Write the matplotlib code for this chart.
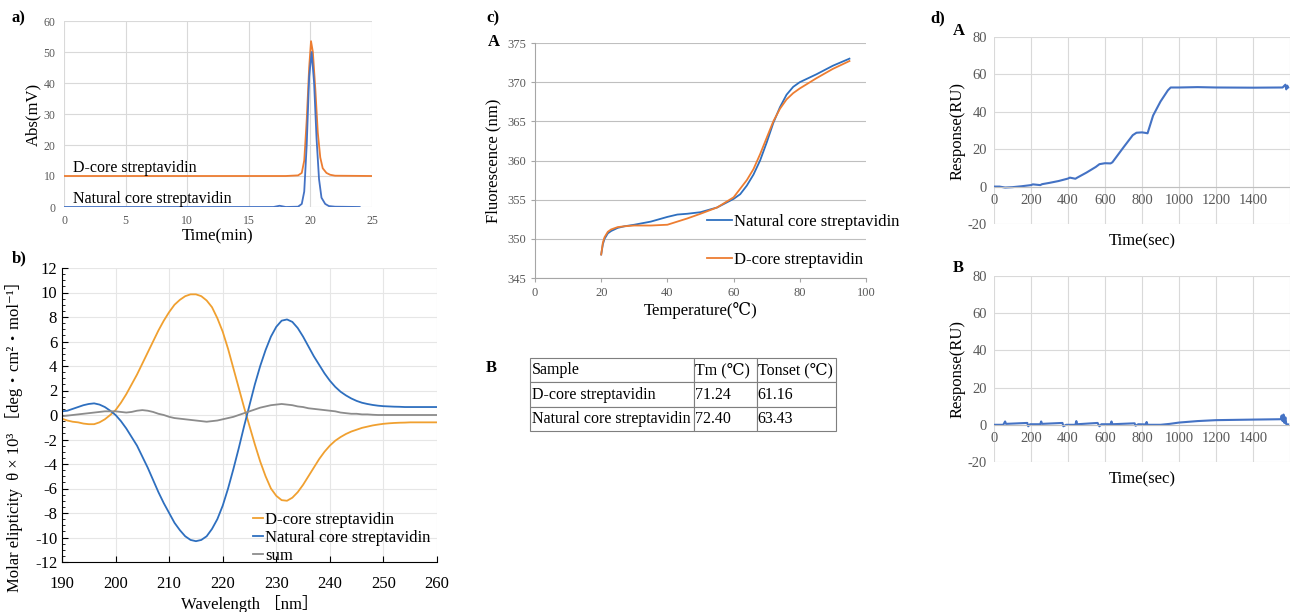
import numpy as np
import matplotlib
matplotlib.use("Agg")
import matplotlib.pyplot as plt
from matplotlib.ticker import AutoMinorLocator

plt.rcParams['font.family'] = ['Liberation Serif', 'DejaVu Serif', 'Noto Sans CJK JP']
plt.rcParams['axes.unicode_minus'] = False

W, H = 1290, 612

# ---- a) HPLC
a_t_d = [0, 15, 18, 19, 19.3, 19.5, 19.7, 19.9, 20.05, 20.2, 20.4, 20.6, 20.8, 21.0, 21.3, 21.6, 22, 25]
a_v_d = [10, 10, 10, 10.2, 11, 15, 28, 45, 53.5, 50, 38, 24, 16, 12.5, 11, 10.4, 10.1, 10]
a_t_n = [0, 17, 17.5, 18, 19, 19.3, 19.5, 19.7, 19.9, 20.1, 20.3, 20.5, 20.7, 20.9, 21.2, 21.5, 22, 24]
a_v_n = [0, 0, 0.4, 0, 0.1, 1, 5, 20, 42, 50, 40, 22, 9, 3, 1, 0.3, 0.1, 0]

# ---- b) CD spectra, 190-260 nm every 1 nm
b_wl = list(range(190, 261))
b_d = [-0.3, -0.45, -0.55, -0.6, -0.7, -0.75, -0.75, -0.6, -0.35, 0.0,
       0.4, 1.0, 1.7, 2.5, 3.3, 4.2, 5.1, 6.0, 6.9, 7.7,
       8.4, 9.0, 9.4, 9.7, 9.85, 9.85, 9.7, 9.35, 8.8, 7.9,
       6.8, 5.4, 3.8, 2.2, 0.6, -0.9, -2.4, -3.8, -5.0, -6.0,
       -6.6, -6.95, -7.0, -6.75, -6.3, -5.7, -5.0, -4.3, -3.6, -3.0,
       -2.5, -2.1, -1.8, -1.55, -1.35, -1.2, -1.05, -0.95, -0.85, -0.78,
       -0.72, -0.68, -0.65, -0.63, -0.62, -0.6, -0.6, -0.6, -0.6, -0.6, -0.6]
b_n = [0.3, 0.35, 0.5, 0.65, 0.8, 0.9, 0.95, 0.85, 0.65, 0.35,
       0.0, -0.5, -1.1, -1.8, -2.5, -3.4, -4.3, -5.3, -6.3, -7.2,
       -8.0, -8.8, -9.4, -9.9, -10.2, -10.3, -10.2, -9.9, -9.3, -8.5,
       -7.4, -6.0, -4.4, -2.7, -0.9, 0.8, 2.5, 4.0, 5.3, 6.4,
       7.2, 7.7, 7.8, 7.6, 7.1, 6.4, 5.6, 4.8, 4.1, 3.4,
       2.8, 2.3, 1.9, 1.6, 1.35, 1.15, 1.0, 0.9, 0.82, 0.76,
       0.72, 0.7, 0.68, 0.67, 0.65, 0.65, 0.65, 0.65, 0.65, 0.65, 0.65]
b_s = [-0.1, -0.05, 0.0, 0.05, 0.1, 0.15, 0.2, 0.25, 0.3, 0.3,
       0.3, 0.25, 0.2, 0.25, 0.35, 0.4, 0.35, 0.25, 0.1, 0.0,
       -0.15, -0.25, -0.3, -0.35, -0.4, -0.45, -0.5, -0.55, -0.5, -0.45,
       -0.35, -0.25, -0.15, 0.0, 0.15, 0.3, 0.45, 0.6, 0.7, 0.8,
       0.85, 0.9, 0.85, 0.8, 0.7, 0.65, 0.55, 0.5, 0.45, 0.4,
       0.35, 0.3, 0.2, 0.15, 0.1, 0.1, 0.05, 0.05, 0.02, 0.0,
       0.0, 0.0, 0.0, 0.0, 0.0, 0.0, 0.0, 0.0, 0.0, 0.0, 0.0]

# ---- c) fluorescence melting
c_T = [20, 20.5, 21, 22, 23, 25, 27, 30, 35, 40, 43, 46, 50, 55, 60, 62, 64, 66, 68, 70, 72, 74, 76, 78, 80, 85, 90, 95]
c_n = [348, 349.3, 350.0, 350.7, 351.0, 351.4, 351.6, 351.8, 352.2, 352.8, 353.1, 353.2, 353.4, 354.0, 355.1, 355.7,
       356.8, 358.2, 360.0, 362.3, 364.8, 366.8, 368.4, 369.4, 370.0, 371.0, 372.1, 373.0]
c_d = [348, 349.5, 350.2, 350.9, 351.2, 351.5, 351.6, 351.7, 351.7, 351.8, 352.2, 352.6, 353.2, 354.0, 355.3, 356.4,
       357.5, 358.9, 360.8, 362.9, 365.0, 366.6, 367.8, 368.6, 369.2, 370.5, 371.7, 372.7]

tbl_header = ["Sample", "Tm (\u2103)", "Tonset (\u2103)"]
tbl_rows = [["D-core streptavidin", "71.24", "61.16"],
            ["Natural core streptavidin", "72.40", "63.43"]]

# ---- d) SPR sensorgrams
dA_t = [0, 30, 60, 100, 150, 200, 210, 250, 260, 300, 350, 400, 410, 440, 450, 500, 550, 570, 600, 630, 640,
        700, 750, 770, 800, 820, 830, 860, 900, 940, 955, 1000, 1100, 1200, 1400, 1560, 1575, 1580, 1585, 1590]
dA_r = [0, 0, -0.5, -0.3, 0.2, 0.8, 1.2, 0.8, 1.3, 2.0, 3.0, 4.3, 4.8, 4.2, 4.8, 7.5, 10.5, 12.0, 12.5, 12.4, 13.0,
        21, 27.5, 28.8, 29.0, 28.7, 28.5, 38, 45.5, 51.5, 53.0, 53.0, 53.2, 53.0, 52.9, 53.0, 54.5, 52.0, 54.0, 53.0]
dB_t = [0, 50, 60, 65, 180, 185, 195, 250, 255, 260, 370, 375, 390, 440, 445, 450, 560, 570, 580, 630, 635, 640,
        760, 765, 780, 820, 825, 830, 900, 950, 1000, 1100, 1200, 1400, 1550, 1555, 1560, 1565, 1570, 1575, 1580, 1590]
dB_r = [0, 0, 1.8, 0.5, 1.0, -0.8, 0.3, 0.3, 1.8, 0.5, 1.0, -0.8, 0.0, 0.0, 2.0, 0.3, 1.0, -0.8, 0.3, 0.3, 1.8, 0.3,
        0.8, -0.5, 0.3, 0.2, 1.5, 0.0, 0.0, 0.5, 1.2, 2.0, 2.5, 2.8, 3.0, 5.0, 2.0, 5.5, 1.0, 4.0, 0.3, 0.2]

BLUE = '#2E6FBF'
XBLUE = '#4472C4'
ORANGE = '#ED7D31'
AMBER = '#F0A030'
GRID = '#D9D9D9'
TICKGRAY = '#595959'


def box(l, t, r, b):
    return [l / W, 1 - b / H, (r - l) / W, (b - t) / H]


fig = plt.figure(figsize=(12.9, 6.12), dpi=100)

# ---------- a)
ax = fig.add_axes(box(64, 21, 372, 207))
ax.plot(a_t_d, a_v_d, color=ORANGE, lw=1.3)
ax.plot(a_t_n, a_v_n, color=XBLUE, lw=1.3)
ax.set_xlim(0, 25)
ax.set_ylim(0, 60)
ax.set_xticks(range(0, 26, 5))
ax.set_yticks(range(0, 61, 10))
ax.grid(color=GRID, lw=0.8)
ax.set_axisbelow(True)
for s in ax.spines.values():
    s.set_visible(False)
ax.tick_params(length=0, labelsize=8.5, labelcolor=TICKGRAY, pad=6)
ax.text(0.7, 11.3, "D-core streptavidin", fontsize=11.5)
ax.text(0.7, 1.3, "Natural core streptavidin", fontsize=11.5)
ax.set_ylabel("Abs(mV)", fontsize=12, labelpad=2)
ax.set_xlabel("Time(min)", fontsize=12, labelpad=1)
fig.text(12 / W, 1 - 22 / H, "a)", fontsize=12, fontweight='bold')

# ---------- b)
ax = fig.add_axes(box(62, 268, 437, 562))
ax.plot(b_wl, b_d, color=AMBER, lw=1.3, label="D-core streptavidin")
ax.plot(b_wl, b_n, color=BLUE, lw=1.3, label="Natural core streptavidin")
ax.plot(b_wl, b_s, color='#8C8C8C', lw=1.3, label="sum")
ax.set_xlim(190, 260)
ax.set_ylim(-12, 12)
ax.set_xticks(range(190, 261, 10))
ax.set_yticks(range(-12, 13, 2))
ax.yaxis.set_minor_locator(AutoMinorLocator(4))
ax.grid(color='#E6E6E6', lw=0.8)
ax.set_axisbelow(True)
ax.spines['top'].set_visible(False)
ax.spines['right'].set_visible(False)
ax.tick_params(direction='in', labelsize=12, length=4)
ax.tick_params(axis='x', pad=10)
ax.tick_params(which='minor', direction='in', length=2)
ax.legend(loc='lower right', frameon=False, fontsize=12, handlelength=0.6, handletextpad=0.1,
          labelspacing=0.12, borderaxespad=0.0, bbox_to_anchor=(1.0, -0.03))
ax.set_ylabel("Molar elipticity  \u03b8 \u00d7 10\u00b3 \uff3bdeg\u30fbcm\u00b2\u30fbmol\u207b\u00b9\uff3d",
              fontsize=12)
ax.yaxis.set_label_coords(-0.105, 0.44)
ax.set_xlabel("Wavelength \uff3bnm\uff3d", fontsize=12, labelpad=2)
fig.text(12 / W, 1 - 262 / H, "b)", fontsize=12, fontweight='bold')

# ---------- c)
ax = fig.add_axes(box(535, 43, 866, 278))
ax.plot(c_T, c_n, color=BLUE, lw=1.3, label="Natural core streptavidin")
ax.plot(c_T, c_d, color=ORANGE, lw=1.3, label="D-core streptavidin")
ax.set_xlim(0, 100)
ax.set_ylim(345, 375)
ax.set_xticks(range(0, 101, 20))
ax.set_yticks(range(345, 376, 5))
ax.yaxis.grid(True, color='#BFBFBF', lw=0.8)
ax.set_axisbelow(True)
ax.spines['top'].set_visible(False)
ax.spines['right'].set_visible(False)
ax.spines['left'].set_color('#A6A6A6')
ax.spines['bottom'].set_color('#A6A6A6')
ax.tick_params(labelsize=9, labelcolor=TICKGRAY, length=3, color='#A6A6A6')
ax.legend(loc='lower right', frameon=False, fontsize=12, handlelength=1.5, handletextpad=0.1,
          labelspacing=1.3, borderaxespad=0.2, bbox_to_anchor=(1.13, 0.0))
ax.set_ylabel("Fluorescence (nm)", fontsize=12, labelpad=4)
ax.set_xlabel("Temperature(\u2103)", fontsize=12, labelpad=2)
fig.text(486 / W, 1 - 22 / H, "c)", fontsize=12, fontweight='bold')
fig.text(488 / W, 1 - 46 / H, "A", fontsize=12, fontweight='bold')

# ---------- c) table B
axt = fig.add_axes(box(530, 358, 836, 431))
axt.axis('off')
tab = axt.table(cellText=[tbl_header] + tbl_rows, cellLoc='left', bbox=[0, 0, 1, 1],
                colWidths=[164, 63, 79])
tab.auto_set_font_size(False)
tab.set_fontsize(11.5)
for cell in tab.get_celld().values():
    cell.set_edgecolor('#7F7F7F')
    cell.set_linewidth(0.8)
    cell.PAD = 0.01
fig.text(486 / W, 1 - 372 / H, "B", fontsize=12, fontweight='bold')


# ---------- d)
def spr(rect, t, r, tag, y_tag):
    ax = fig.add_axes(box(*rect))
    ax.plot(t, r, color=XBLUE, lw=1.5)
    ax.set_xlim(0, 1595)
    ax.set_ylim(-20, 80)
    ax.set_xticks(range(0, 1401, 200))
    ax.set_xticks([1600], minor=True)
    ax.set_yticks(range(-20, 81, 20))
    ax.grid(color=GRID, lw=0.8)
    ax.grid(which='minor', color=GRID, lw=0.8)
    ax.set_axisbelow(True)
    for s in ['top', 'right', 'left']:
        ax.spines[s].set_visible(False)
    ax.spines['bottom'].set_position(('data', 0))
    ax.spines['bottom'].set_color('#BFBFBF')
    ax.tick_params(length=0, labelsize=10.5, labelcolor=TICKGRAY, pad=5)
    ax.set_ylabel("Response(RU)", fontsize=12, labelpad=2)
    ax.text(0.5, -0.05, "Time(sec)", transform=ax.transAxes, ha='center', va='top', fontsize=12)
    fig.text(953 / W, 1 - y_tag / H, tag, fontsize=12, fontweight='bold')
    return ax


spr((994, 37, 1290, 224), dA_t, dA_r, "A", 35)
spr((994, 276, 1290, 462), dB_t, dB_r, "B", 272)
fig.text(930 / W, 1 - 22 / H, "d)", fontsize=12, fontweight='bold')

fig.savefig("out.png", dpi=100)
